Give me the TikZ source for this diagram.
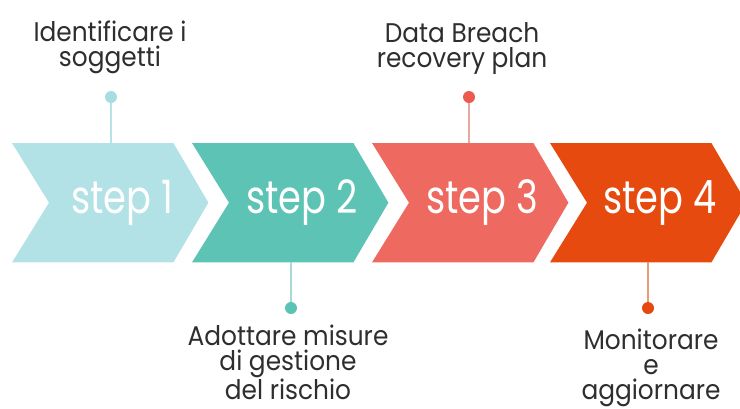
\documentclass[tikz,border=0pt]{standalone}
\usepackage{fontspec}
\setmainfont{Poppins}
\newfontfamily\stepfont[FakeStretch=0.8]{Poppins}
\newfontfamily\descfont[FakeStretch=0.92]{Poppins}
\usetikzlibrary{positioning,calc}

\definecolor{stepA}{HTML}{B2E2E5}
\definecolor{stepB}{HTML}{5DC3B4}
\definecolor{stepC}{HTML}{EE6A60}
\definecolor{stepD}{HTML}{E64A0E}
\definecolor{lineA}{HTML}{B8E3E6}
\definecolor{lineB}{HTML}{A8DAD3}
\definecolor{lineC}{HTML}{E8A8A0}
\definecolor{lineD}{HTML}{E99A78}
\definecolor{dotA}{HTML}{A8DCE0}
\definecolor{dotB}{HTML}{5BC3B3}
\definecolor{dotC}{HTML}{EC5A4E}
\definecolor{dotD}{HTML}{E5490D}
\definecolor{txtgray}{HTML}{2E2E2E}

\begin{document}
\begin{tikzpicture}[x=1pt, y=-1pt,
    stepbox/.style={minimum width=161pt, minimum height=119pt, inner sep=0pt, anchor=north west},
    steptext/.style={text=white, anchor=base, font=\stepfont\fontsize{46}{46}\selectfont},
    dot/.style={circle, inner sep=0pt, minimum size=12pt},
    stem/.style={line width=2pt},
    desc/.style={align=center, inner sep=0pt, anchor=base, text=txtgray, font=\descfont\fontsize{27}{25}\selectfont}]
  \useasboundingbox (0,0) rectangle (740,408);

  % the four chevrons
  \foreach \i/\x/\c in {1/12/stepA, 2/192/stepB, 3/372/stepC, 4/550/stepD} {
    \node (s\i) [stepbox] at (\x,143) {};
    \fill[\c] (s\i.north west) -- (s\i.north east) -- ($(s\i.east)+(35,0)$)
      -- (s\i.south east) -- (s\i.south west) -- ($(s\i.west)+(37,0)$) -- cycle;
    \node (l\i) [steptext] at ($(s\i.north west)+(110,70)$) {step \i};
  }

  % pins
  \node (d1) [dot, fill=dotA] at (111,97) {};
  \node (d3) [dot, fill=dotC] at (469,97) {};
  \node (d2) [dot, fill=dotB] at (291,308) {};
  \node (d4) [dot, fill=dotD] at (648,308) {};
  \draw[stem, lineA] (d1) -- (d1 |- s1.north);
  \draw[stem, lineC] (d3) -- (d3 |- s3.north);
  \draw[stem, lineB] (d2) -- (d2 |- s2.south);
  \draw[stem, lineD] (d4) -- (d4 |- s4.south);

  % texts (base = last line)
  \node (t1) [desc] at (110,66) {Identificare i\\soggetti};
  \node (t3) [desc] at (462,67) {Data Breach\\recovery plan};
  \node (t2) [desc] at (288,399) {Adottare misure\\di gestione\\del rischio};
  \node (t4) [desc] at (651,399) {Monitorare\\e\\aggiornare};
\end{tikzpicture}
\end{document}
